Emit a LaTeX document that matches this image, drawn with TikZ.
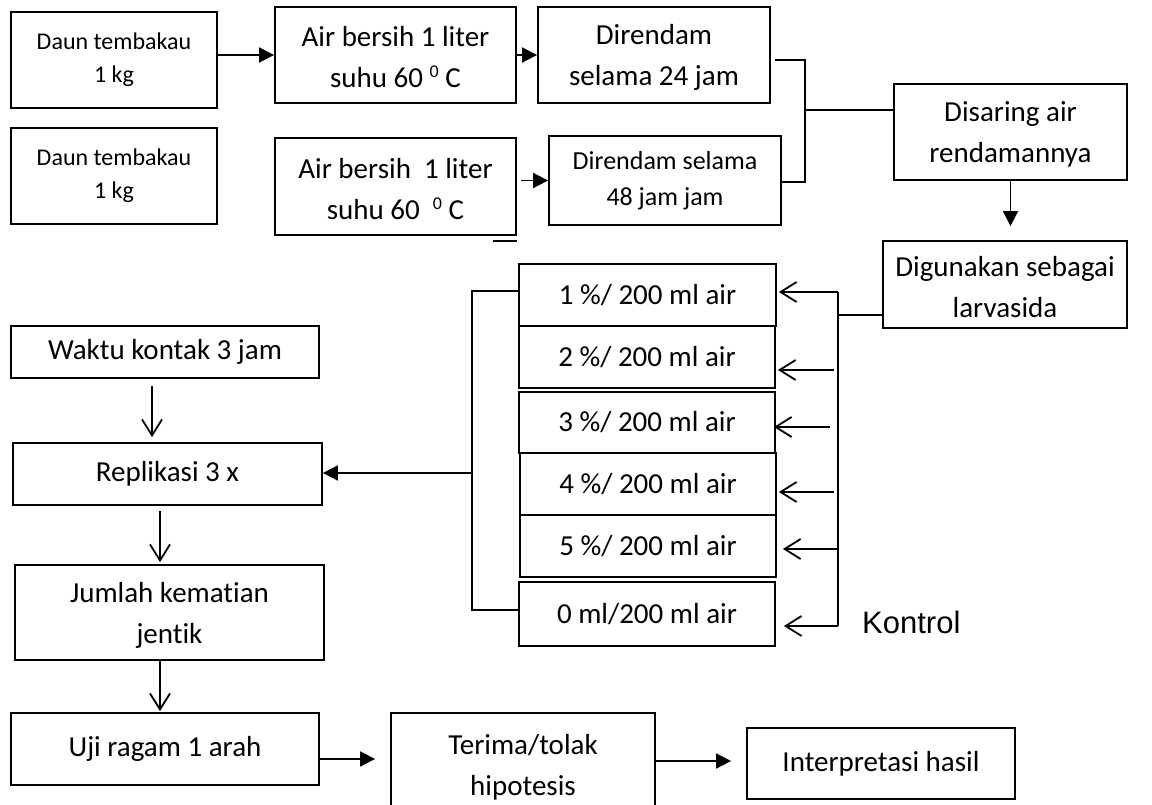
\documentclass[tikz,border=0pt]{standalone}
\usepackage{fontspec}
\setmainfont{Carlito}[Ligatures=NoCommon]
\newfontfamily\kontrolfont{Liberation Sans}
\usetikzlibrary{arrows.meta}
\newcommand{\degsup}{\raisebox{10pt}{\fontsize{18}{18}\selectfont 0}}
\newcommand{\topstrut}{\rule{0pt}{25pt}}
\begin{document}
\begin{tikzpicture}[x=1pt,y=-1pt,
  bx/.style={draw, line width=1.8pt, inner sep=0pt, align=center, font=\fontsize{29}{41}\selectfont},
  smallbx/.style={bx, font=\fontsize{24}{33}\selectfont},
  ln/.style={line width=1.8pt},
  arF/.style={ln, -{Triangle[length=15pt,width=15pt]}},
  arO/.style={ln, -{Straight Barb[length=16pt,width=20pt]}}]
\useasboundingbox (0,0) rectangle (1152,805);
\fill[white] (0,0) rectangle (1152,805);
\clip (0,0) rectangle (1152,805);

% top area
\node[smallbx, minimum width=206, minimum height=96] (a1) at (114,60) {Daun tembakau\\1 kg};
\node[smallbx, minimum width=206, minimum height=96] (a2) at (114,176) {Daun tembakau\\1 kg};
\node[bx, minimum width=241, minimum height=96] (b1) at (395.5,55) {\topstrut Air bersih 1 liter\\suhu 60 \degsup{} C};
\node[bx, minimum width=241, minimum height=97] (b2) at (395.5,186.5) {\topstrut Air bersih~ 1 liter\\suhu 60~ \degsup{} C};
\node[bx, minimum width=232, minimum height=96] (c1) at (654,55) {\topstrut Direndam\\selama 24 jam};
\node[bx, minimum width=232, minimum height=89, font=\fontsize{26}{36}\selectfont] (c2) at (665,180.5) {Direndam selama\\48 jam jam};
\node[bx, minimum width=233, minimum height=96] (d1) at (1010.5,132) {\topstrut Disaring air\\rendamannya};
\node[bx, minimum width=244, minimum height=87] (d2) at (1005,284.5) {\topstrut Digunakan sebagai\\larvasida};

% concentration boxes
\node[bx, minimum width=257, minimum height=62] (r1) at (647.5,295) {1 \%/ 200 ml air};
\node[bx, minimum width=256, minimum height=62] (r2) at (647,357) {2 \%/ 200 ml air};
\node[bx, minimum width=256, minimum height=61] (r3) at (647,422.5) {3 \%/ 200 ml air};
\node[bx, minimum width=256, minimum height=62] (r4) at (648,484) {4 \%/ 200 ml air};
\node[bx, minimum width=256, minimum height=62] (r5) at (648,546) {5 \%/ 200 ml air};
\node[bx, minimum width=256, minimum height=64] (r6) at (647,614) {0 ml/200 ml air};
\node[anchor=base west, inner sep=0pt, font=\kontrolfont\fontsize{31}{36}\selectfont] (kt) at (862,633) {Kontrol};

% left column
\node[bx, minimum width=308, minimum height=52] (w) at (165,352) {Waktu kontak 3 jam};
\node[bx, minimum width=309, minimum height=62] (rep) at (167.5,474) {Replikasi 3 x};
\node[bx, minimum width=309, minimum height=95] (jm) at (169.5,612.5) {\topstrut Jumlah kematian\\jentik};
\node[bx, minimum width=308, minimum height=72] (uj) at (165,749) {Uji ragam 1 arah};
\node[bx, minimum width=264, minimum height=109] (tt) at (523,767.5) {Terima/tolak\\hipotesis};
\node[bx, minimum width=268, minimum height=71] (ip) at (881,763.5) {Interpretasi hasil};

% top connectors
\draw[arF] (a1.east |- b1.west) -- (b1.west);
\draw[arF] (b1.east) -- (c1.west);
\draw[arF] ([xshift=4pt]b2.east |- c2.west) -- (c2.west);
\draw[ln] ([xshift=-24pt,yshift=-5pt]b2.south east) -- ([yshift=-5pt]b2.south east);

\coordinate (ja) at (805,60);
\coordinate (jb) at (805,182);
\coordinate (jm0) at (805,110);
\draw[ln] ([xshift=4pt]c1.east |- ja) -- (ja) -- (jb) -- (c2.east |- jb);
\draw[ln] (jm0) -- (d1.west |- jm0);
\draw[arF, shorten >=14pt] (d1.south) -- (d1.south |- d2.north);

% right bracket
\coordinate (rt) at (838,292);
\coordinate (rb) at (838,626);
\coordinate (rm) at (838,315);
\coordinate (s2) at (834,370);
\coordinate (s3) at (830,427);
\coordinate (s4) at (834,492);
\coordinate (s5) at (838,549);
\draw[ln] (d2.west |- rm) -- (rm);
\draw[ln] (rt) -- (rb);
\draw[arO] (rt) -- ([xshift=2pt]r1.east |- rt);
\draw[arO] (s2) -- ([xshift=2pt]r2.east |- s2);
\draw[arO] (s3) -- ([xshift=-2pt]r3.east |- s3);
\draw[arO] (s4) -- ([xshift=2pt]r4.east |- s4);
\draw[arO] (s5) -- ([xshift=6pt]r5.east |- s5);
\draw[arO] (rb) -- ([xshift=8pt]r6.east |- rb);

% left bracket
\coordinate (lt) at (472,291);
\coordinate (lb) at (472,610);
\coordinate (lm) at (472,473);
\draw[ln] (r1.west |- lt) -- (lt) -- (lb) -- (r6.west |- lb);
\draw[arF] (lm) -- (rep.east |- lm);

% left column arrows
\coordinate (wa) at (152,0);
\coordinate (jx) at (160,0);
\draw[arO, shorten <=7pt, shorten >=5pt] (w.south -| wa) -- (rep.north -| wa);
\draw[arO, shorten <=5pt, shorten >=2pt] (rep.south -| jx) -- (jm.north -| jx);
\draw[arO, shorten >=1pt] (jm.south -| jx) -- (uj.north -| jx);

% bottom arrows
\coordinate (by1) at (0,759);
\coordinate (by2) at (0,761);
\draw[arF, shorten >=15pt] (uj.east |- by1) -- (tt.west |- by1);
\draw[arF, shorten >=15pt] (tt.east |- by2) -- (ip.west |- by2);
\end{tikzpicture}
\end{document}
